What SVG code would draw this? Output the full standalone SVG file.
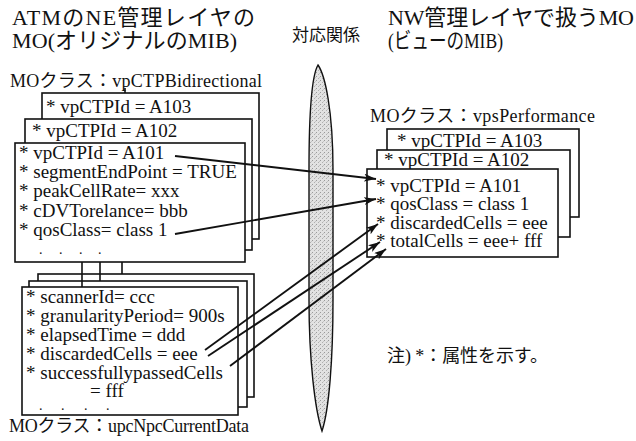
<svg xmlns="http://www.w3.org/2000/svg" width="636" height="441" viewBox="0 0 636 441">
<style>
text{font-family:"Liberation Serif","Noto Sans CJK JP",serif;fill:#111}
.t{font-size:22px}
.a{font-size:19px}
.l{font-size:18px}
.d{font-size:14px}
.card{fill:#fff;stroke:#111;stroke-width:1.6}
.ln{stroke:#111;stroke-width:1.6;fill:none}
.arr{stroke:#111;stroke-width:1.9;fill:none;marker-end:url(#ah)}
</style>
<defs>
<marker id="ah" viewBox="0 0 12 8" refX="12" refY="4" markerWidth="12" markerHeight="8" markerUnits="userSpaceOnUse" orient="auto">
<path d="M0,0 L12,4 L0,8 L3,4 Z" fill="#111"/>
</marker>
<pattern id="stip" width="4" height="4" patternUnits="userSpaceOnUse">
<rect width="4" height="4" fill="#e2e2e2"/>
<rect x="0" y="0" width="1" height="1" fill="#9a9a9a"/>
<rect x="2" y="2" width="1" height="1" fill="#b0b0b0"/>
<rect x="3" y="1" width="1" height="1" fill="#c4c4c4"/>
</pattern>
</defs>

<g id="titles">
<text class="t" x="12" y="25" textLength="243">ATMのNE管理レイヤの</text>
<text class="t" x="12" y="48" textLength="225">MO(オリジナルのMIB)</text>
<text class="t" x="388" y="25" textLength="246">NW管理レイヤで扱うMO</text>
<text class="t" x="388" y="48" textLength="115" lengthAdjust="spacingAndGlyphs">(ビューのMIB)</text>
<text x="292" y="41" style="font-size:17px" textLength="68">対応関係</text>
</g>

<g id="lens">
<path d="M318,65 C312,75 309,110 309,170 L309,300 C309,360 315,410 322,431 C329,410 333,360 333,300 L333,170 C333,110 325,75 318,65 Z" fill="url(#stip)" stroke="#111" stroke-width="1.4"/>
</g>

<g id="vpCTPBidirectional">
<text class="l" x="10" y="87" textLength="252">MOクラス：vpCTPBidirectional</text>
<line class="ln" x1="125" y1="88" x2="125" y2="93"/>
<rect class="card" x="42" y="93" width="217" height="146"/>
<text class="a" x="46" y="113">* vpCTPId = A103</text>
<rect class="card" x="25" y="119" width="227" height="131"/>
<text class="a" x="32" y="137">* vpCTPId = A102</text>
<rect class="card" x="15" y="143" width="230" height="119"/>
<text class="a" x="19" y="159">* vpCTPId = A101</text>
<text class="a" x="19" y="178">* segmentEndPoint = TRUE</text>
<text class="a" x="19" y="197">* peakCellRate= xxx</text>
<text class="a" x="19" y="217">* cDVTorelance= bbb</text>
<text class="a" x="19" y="236">* qosClass= class 1</text>
<text class="d" x="39 59 79 98" y="254">....</text>
</g>

<g id="upcNpcCurrentData">
<rect class="card" x="38" y="274" width="216" height="123"/>
<rect class="card" x="29" y="281" width="218" height="126"/>
<rect class="card" x="22" y="287" width="216" height="128"/>
<text class="a" x="26" y="303">* scannerId= ccc</text>
<text class="a" x="26" y="322">* granularityPeriod= 900s</text>
<text class="a" x="26" y="341">* elapsedTime = ddd</text>
<text class="a" x="26" y="360">* discardedCells = eee</text>
<text class="a" x="26" y="379">* successfullypassedCells</text>
<text class="a" x="90" y="397">= fff</text>
<text class="d" x="39 61 84 106" y="410">....</text>
<text class="l" x="9" y="432" textLength="240">MOクラス：upcNpcCurrentData</text>
</g>

<g id="vpsPerformance">
<text class="l" x="370" y="122" textLength="225">MOクラス：vpsPerformance</text>
<rect class="card" x="387" y="129" width="192" height="88"/>
<text class="a" x="397" y="147">* vpCTPId = A103</text>
<rect class="card" x="377" y="150" width="193" height="87"/>
<text class="a" x="384" y="166">* vpCTPId = A102</text>
<rect class="card" x="367" y="169" width="191" height="88"/>
<text class="a" x="376" y="192">* vpCTPId = A101</text>
<text class="a" x="376" y="210">* qosClass = class 1</text>
<text class="a" x="376" y="229">* discardedCells = eee</text>
<text class="a" x="376" y="247">* totalCells = eee+ fff</text>
</g>

<g id="note">
<text class="l" x="387" y="362" textLength="161">注) *：属性を示す。</text>
</g>

<g id="connectors">
<line class="ln" x1="82" y1="262" x2="82" y2="287"/>
<line class="ln" x1="100" y1="262" x2="100" y2="281"/>
<line class="ln" x1="122" y1="262" x2="122" y2="274"/>
<line class="arr" x1="175" y1="156" x2="376" y2="179"/>
<line class="arr" x1="175" y1="234" x2="376" y2="199"/>
<line class="arr" x1="205" y1="350" x2="378" y2="224"/>
<line class="arr" x1="208" y1="356" x2="380" y2="242"/>
<line class="arr" x1="230" y1="366" x2="386" y2="249"/>
</g>
</svg>
